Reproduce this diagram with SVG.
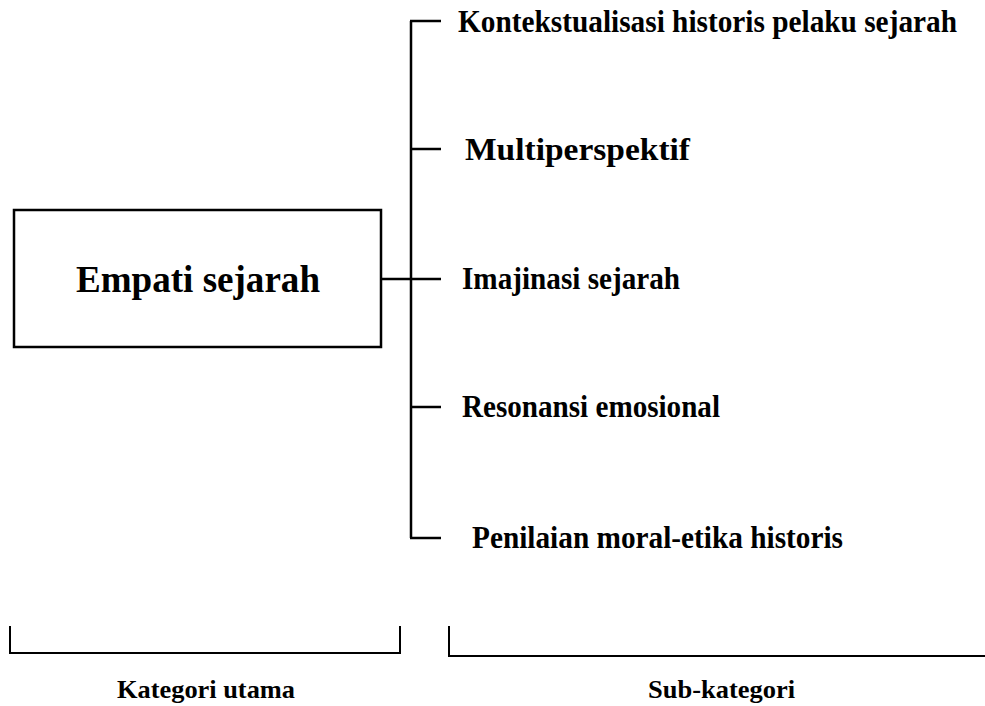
<svg xmlns="http://www.w3.org/2000/svg" width="985" height="706" viewBox="0 0 985 706">
<style>
.t{font-family:"Liberation Serif","Times New Roman",serif;font-weight:bold;fill:#000}
.sub{font-size:31px}
.main{font-size:38px}
.cap{font-size:26px}
.ln{stroke:#000;stroke-width:2.5;fill:none}
.br{stroke:#000;stroke-width:2;fill:none}
</style>
<rect width="985" height="706" fill="#fff"/>
<g id="empati-sejarah">
<rect x="14" y="210" width="367" height="137" fill="#fff" stroke="#000" stroke-width="2.5"/>
<text class="t main" x="198" y="292" text-anchor="middle" textLength="244" lengthAdjust="spacingAndGlyphs">Empati sejarah</text>
</g>
<g id="connectors">
<path class="ln" d="M381 279H441"/>
<path class="ln" d="M411 21V538"/>
<path class="ln" d="M410 21H441"/>
<path class="ln" d="M411 149H441"/>
<path class="ln" d="M411 407H441"/>
<path class="ln" d="M410 538H441"/>
</g>
<g id="kontekstualisasi">
<text class="t sub" x="458" y="32" textLength="499" lengthAdjust="spacingAndGlyphs">Kontekstualisasi historis pelaku sejarah</text>
</g>
<g id="multiperspektif">
<text class="t sub" x="465" y="160" textLength="225" lengthAdjust="spacingAndGlyphs">Multiperspektif</text>
</g>
<g id="imajinasi">
<text class="t sub" x="462" y="289" textLength="218" lengthAdjust="spacingAndGlyphs">Imajinasi sejarah</text>
</g>
<g id="resonansi">
<text class="t sub" x="462" y="417" textLength="258" lengthAdjust="spacingAndGlyphs">Resonansi emosional</text>
</g>
<g id="penilaian">
<text class="t sub" x="472" y="548" textLength="371" lengthAdjust="spacingAndGlyphs">Penilaian moral-etika historis</text>
</g>
<g id="kategori-utama">
<path class="br" d="M10 626V653H400V626"/>
<text class="t cap" x="117" y="698" textLength="178" lengthAdjust="spacingAndGlyphs">Kategori utama</text>
</g>
<g id="sub-kategori">
<path class="br" d="M449 626V656H985"/>
<text class="t cap" x="648" y="698" textLength="147" lengthAdjust="spacingAndGlyphs">Sub-kategori</text>
</g>
</svg>
